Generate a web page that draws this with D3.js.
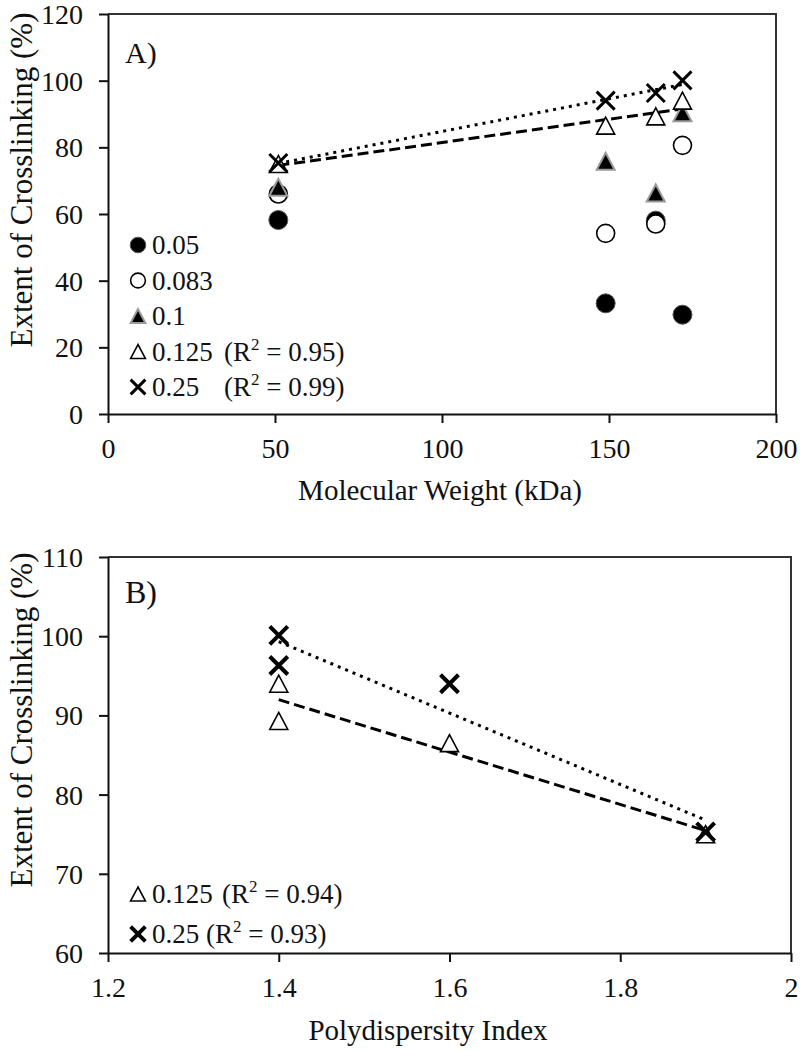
<!DOCTYPE html>
<html>
<head>
<meta charset="utf-8">
<script src="https://d3js.org/d3.v7.min.js"></script>
<style>
  body { margin: 0; background: #fff; }
</style>
</head>
<body>
<script>
    // same four proteins in both panels
    var molWeight = [51, 149, 164, 172];
    var polyIndex = [1.9, 1.6, 1.4, 1.4];

    // extent of crosslinking (%) per crosslinker ratio
    var ext005 = [58.2, 33.2, 58.0, 29.8];
    var ext0083 = [66.0, 54.2, 57.0, 80.6];
    var ext01 = [68.0, 75.8, 66.3, 90.4];
    var ext0125 = [75.0, 86.5, 89.3, 94.0];
    var ext025 = [75.3, 94.0, 96.3, 100.1];

    var ticksA_x = [0, 50, 100, 150, 200];
    var ticksA_y = [0, 20, 40, 60, 80, 100, 120];
    var ticksB_x = [1.2, 1.4, 1.6, 1.8, 2];
    var ticksB_y = [60, 70, 80, 90, 100, 110];

    var seriesA = [
        {name: "0.05", vals: ext005, sym: "dot"},
        {name: "0.083", vals: ext0083, sym: "ring"},
        {name: "0.1", vals: ext01, sym: "tri"},
        {name: "0.125", vals: ext0125, sym: "opentri", r2: "0.95", r2x: 224, fit: "dash"},
        {name: "0.25", vals: ext025, sym: "cross", r2: "0.99", r2x: 224, fit: "dot"}
    ];
    var seriesB = [
        {name: "0.125", vals: ext0125, sym: "opentri", r2: "0.94", r2x: 222, fit: "dash"},
        {name: "0.25", vals: ext025, sym: "cross", r2: "0.93", r2x: 206, fit: "dot"}
    ];

    var W = 800, H = 1051;
    var FONT = "Liberation Serif";
    var svg = d3.select("body").append("svg").attr("width", W).attr("height", H);

    // draw one marker at cx, cy
    function marker(g, sym, cx, cy, s, cw) {
        if (sym == "dot") {
            g.append("circle").attr("cx", cx).attr("cy", cy).attr("r", 9.5 * s)
                .attr("fill", "#000").attr("stroke", "#555").attr("stroke-width", 1);
        } else if (sym == "ring") {
            g.append("circle").attr("cx", cx).attr("cy", cy).attr("r", 9 * s)
                .attr("fill", "#fff").attr("stroke", "#000").attr("stroke-width", 1.6);
        } else if (sym == "tri" || sym == "opentri") {
            var w = 9 * s, h = 8.5 * s;
            var pts = [[cx, cy - h], [cx - w, cy + h], [cx + w, cy + h]];
            g.append("polygon").attr("points", pts.join(" "))
                .attr("fill", sym == "tri" ? "#000" : "#fff")
                .attr("stroke", sym == "tri" ? "#999" : "#000")
                .attr("stroke-width", sym == "tri" ? 2 : 1.6);
        } else if (sym == "cross") {
            var d = 9 * s;
            g.append("path")
                .attr("d", "M" + (cx - d) + "," + (cy - d) + "L" + (cx + d) + "," + (cy + d) +
                    "M" + (cx - d) + "," + (cy + d) + "L" + (cx + d) + "," + (cy - d))
                .attr("stroke", "#000").attr("stroke-width", cw).attr("fill", "none");
        }
    }

    // least squares line through the points
    function fitLine(xs, ys) {
        var mx = d3.mean(xs), my = d3.mean(ys);
        var sxy = d3.sum(xs, function (x, i) { return (x - mx) * (ys[i] - my); });
        var sxx = d3.sum(xs, function (x) { return (x - mx) * (x - mx); });
        var b = sxy / sxx;
        return function (x) { return my + b * (x - mx); };
    }

    function panel(opt) {
        var g = svg.append("g");
        var x = d3.scaleLinear().domain(opt.xdom).range([opt.left, opt.right]);
        var y = d3.scaleLinear().domain(opt.ydom).range([opt.bottom, opt.top]);

        // frame
        g.append("path")
            .attr("d", "M" + opt.left + "," + opt.top + "H" + opt.right + "V" + opt.bottom)
            .attr("fill", "none").attr("stroke", "#333").attr("stroke-width", 2);

        var ax = g.append("g").attr("transform", "translate(0," + opt.bottom + ")")
            .call(d3.axisBottom(x).tickValues(opt.xticks).tickSize(9).tickSizeOuter(0).tickFormat(d3.format("")));
        var ay = g.append("g").attr("transform", "translate(" + opt.left + ",0)")
            .call(d3.axisLeft(y).tickValues(opt.yticks).tickSize(9).tickSizeOuter(0));
        [ax, ay].forEach(function (a) {
            a.select(".domain").attr("stroke", "#111").attr("stroke-width", 2);
            a.selectAll(".tick line").attr("stroke", "#111").attr("stroke-width", 2);
            a.selectAll(".tick text").attr("font-size", 28).attr("fill", "#111");
        });
        ax.selectAll(".tick text").attr("y", 0).attr("dy", 0).attr("transform", "translate(0,44)");
        ay.selectAll(".tick text").attr("x", -25).attr("dy", "0.34em");

        // axis titles
        g.append("text").attr("x", opt.xtitleX).attr("y", opt.xtitleY)
            .attr("text-anchor", "middle").attr("font-size", 29).attr("fill", "#111").text(opt.xtitle);
        g.append("text")
            .attr("transform", "translate(32," + opt.ytitleY + ") rotate(-90)")
            .attr("text-anchor", "middle").attr("font-size", 31).attr("fill", "#111")
            .text("Extent of Crosslinking (%)");

        g.append("text").attr("x", opt.left + 17).attr("y", opt.tagY)
            .attr("font-size", opt.tagSize).attr("fill", "#111").text(opt.tag);

        // trend lines
        opt.series.forEach(function (s) {
            if (!s.fit) return;
            var f = fitLine(opt.xs, s.vals);
            var x0 = d3.min(opt.xs), x1 = d3.max(opt.xs);
            g.append("line")
                .attr("x1", x(x0)).attr("y1", y(f(x0)))
                .attr("x2", x(x1)).attr("y2", y(f(x1)))
                .attr("stroke", "#000").attr("stroke-width", 3)
                .attr("stroke-dasharray", s.fit == "dash" ? "11,5" : "3,5");
        });

        // points
        opt.series.forEach(function (s) {
            s.vals.forEach(function (v, i) {
                marker(g, s.sym, x(opt.xs[i]), y(v), 1, opt.crossW);
            });
        });

        // legend
        opt.series.forEach(function (s, i) {
            var cy = opt.legY + i * opt.legStep;
            marker(g, s.sym, 138, cy, 0.82, opt.crossW);
            g.append("text").attr("x", 152).attr("y", cy + 9).attr("font-size", 27)
                .attr("fill", "#111").text(s.name);
            if (s.r2) {
                var t2 = g.append("text").attr("x", s.r2x).attr("y", cy + 9)
                    .attr("font-size", 27).attr("fill", "#111");
                t2.append("tspan").text("(R");
                t2.append("tspan").attr("font-size", 17).attr("dy", -11).text("2");
                t2.append("tspan").attr("dy", 11).text(" = " + s.r2 + ")");
            }
        });
    }

    panel({
        left: 108, right: 776, top: 14, bottom: 414,
        xdom: [0, 200], ydom: [0, 120], xticks: ticksA_x, yticks: ticksA_y,
        xs: molWeight, series: seriesA, tag: "A)", tagY: 63, tagSize: 30,
        xtitle: "Molecular Weight (kDa)", xtitleX: 440, xtitleY: 500,
        ytitleY: 180, crossW: 3,
        legY: 245, legStep: 35.5
    });

    panel({
        left: 108, right: 791, top: 557, bottom: 953,
        xdom: [1.2, 2], ydom: [60, 110], xticks: ticksB_x, yticks: ticksB_y,
        xs: polyIndex, series: seriesB, tag: "B)", tagY: 603, tagSize: 32,
        xtitle: "Polydispersity Index", xtitleX: 428, xtitleY: 1040,
        ytitleY: 720, crossW: 4,
        legY: 894, legStep: 40
    });

    // serif everywhere, set on each text node
    svg.selectAll("text").style("font-family", FONT);
    svg.selectAll("g").attr("font-family", null);
</script>
</body>
</html>
